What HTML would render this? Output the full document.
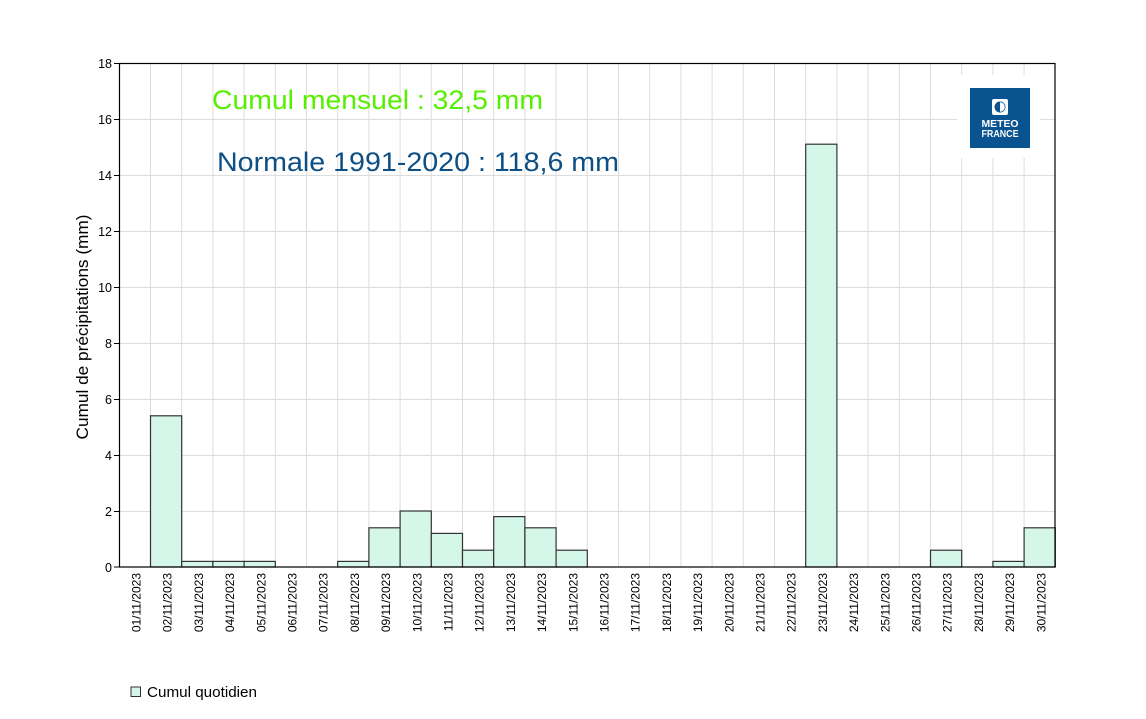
<!DOCTYPE html>
<html><head><meta charset="utf-8"><style>
html,body{margin:0;padding:0;background:#fff;}
svg{display:block;}
text{font-family:"Liberation Sans",Arial,sans-serif;}
</style></head><body>
<svg width="1146" height="719" viewBox="0 0 1146 719" xmlns="http://www.w3.org/2000/svg">
<rect x="0" y="0" width="1146" height="719" fill="#fff"/>
<g stroke="#dddddd" stroke-width="1">
<line x1="150.5" y1="63" x2="150.5" y2="567"/><line x1="181.7" y1="63" x2="181.7" y2="567"/><line x1="212.9" y1="63" x2="212.9" y2="567"/><line x1="244.1" y1="63" x2="244.1" y2="567"/><line x1="275.3" y1="63" x2="275.3" y2="567"/><line x1="306.5" y1="63" x2="306.5" y2="567"/><line x1="337.7" y1="63" x2="337.7" y2="567"/><line x1="368.9" y1="63" x2="368.9" y2="567"/><line x1="400.1" y1="63" x2="400.1" y2="567"/><line x1="431.3" y1="63" x2="431.3" y2="567"/><line x1="462.5" y1="63" x2="462.5" y2="567"/><line x1="493.7" y1="63" x2="493.7" y2="567"/><line x1="524.9" y1="63" x2="524.9" y2="567"/><line x1="556.1" y1="63" x2="556.1" y2="567"/><line x1="587.3" y1="63" x2="587.3" y2="567"/><line x1="618.5" y1="63" x2="618.5" y2="567"/><line x1="649.7" y1="63" x2="649.7" y2="567"/><line x1="680.9" y1="63" x2="680.9" y2="567"/><line x1="712.1" y1="63" x2="712.1" y2="567"/><line x1="743.3" y1="63" x2="743.3" y2="567"/><line x1="774.5" y1="63" x2="774.5" y2="567"/><line x1="805.7" y1="63" x2="805.7" y2="567"/><line x1="836.9" y1="63" x2="836.9" y2="567"/><line x1="868.1" y1="63" x2="868.1" y2="567"/><line x1="899.3" y1="63" x2="899.3" y2="567"/><line x1="930.5" y1="63" x2="930.5" y2="567"/><line x1="961.7" y1="63" x2="961.7" y2="567"/><line x1="992.9" y1="63" x2="992.9" y2="567"/><line x1="1024.1" y1="63" x2="1024.1" y2="567"/>
<line x1="119" y1="119.5" x2="1055" y2="119.5"/><line x1="119" y1="175.5" x2="1055" y2="175.5"/><line x1="119" y1="231.5" x2="1055" y2="231.5"/><line x1="119" y1="287.5" x2="1055" y2="287.5"/><line x1="119" y1="343.5" x2="1055" y2="343.5"/><line x1="119" y1="399.5" x2="1055" y2="399.5"/><line x1="119" y1="455.5" x2="1055" y2="455.5"/><line x1="119" y1="511.5" x2="1055" y2="511.5"/>
</g>
<rect x="957" y="75" width="83" height="83" fill="#fff"/>
<rect x="970" y="88" width="60" height="60" fill="#0a5391"/>
<rect x="992" y="99" width="16" height="16" rx="2" fill="#fff"/>
<circle cx="1000" cy="107" r="5.5" fill="#0a5391"/>
<path d="M1000 102.2 A4.8 4.8 0 0 1 1000 111.8 Z" fill="#fff"/>
<text x="1000" y="127" font-size="10" font-weight="bold" fill="#fff" text-anchor="middle" textLength="37" lengthAdjust="spacingAndGlyphs">METEO</text>
<text x="1000" y="137" font-size="10" font-weight="bold" fill="#fff" text-anchor="middle" textLength="37" lengthAdjust="spacingAndGlyphs">FRANCE</text>
<g fill="#d4f7ea" stroke="#333" stroke-width="1.2">
<rect x="150.5" y="415.8" width="31.2" height="151.2"/>
<rect x="181.7" y="561.4" width="31.2" height="5.6"/>
<rect x="212.9" y="561.4" width="31.2" height="5.6"/>
<rect x="244.1" y="561.4" width="31.2" height="5.6"/>
<rect x="337.7" y="561.4" width="31.2" height="5.6"/>
<rect x="368.9" y="527.8" width="31.2" height="39.2"/>
<rect x="400.1" y="511" width="31.2" height="56"/>
<rect x="431.3" y="533.4" width="31.2" height="33.6"/>
<rect x="462.5" y="550.2" width="31.2" height="16.8"/>
<rect x="493.7" y="516.6" width="31.2" height="50.4"/>
<rect x="524.9" y="527.8" width="31.2" height="39.2"/>
<rect x="556.1" y="550.2" width="31.2" height="16.8"/>
<rect x="805.7" y="144.2" width="31.2" height="422.8"/>
<rect x="930.5" y="550.2" width="31.2" height="16.8"/>
<rect x="992.9" y="561.4" width="31.2" height="5.6"/>
<rect x="1024.1" y="527.8" width="31.2" height="39.2"/>
</g>
<rect x="119.5" y="63.5" width="935.5" height="503.5" fill="none" stroke="#000" stroke-width="1.2"/>
<g stroke="#000" stroke-width="1">
<line x1="114" y1="63.5" x2="119" y2="63.5"/><line x1="114" y1="119.5" x2="119" y2="119.5"/><line x1="114" y1="175.5" x2="119" y2="175.5"/><line x1="114" y1="231.5" x2="119" y2="231.5"/><line x1="114" y1="287.5" x2="119" y2="287.5"/><line x1="114" y1="343.5" x2="119" y2="343.5"/><line x1="114" y1="399.5" x2="119" y2="399.5"/><line x1="114" y1="455.5" x2="119" y2="455.5"/><line x1="114" y1="511.5" x2="119" y2="511.5"/><line x1="114" y1="567" x2="119" y2="567"/>
</g>
<g font-size="12.5" fill="#000" text-anchor="end">
<text x="112" y="68">18</text><text x="112" y="124">16</text><text x="112" y="180">14</text><text x="112" y="236">12</text><text x="112" y="292">10</text><text x="112" y="348">8</text><text x="112" y="404">6</text><text x="112" y="460">4</text><text x="112" y="516">2</text><text x="112" y="572">0</text>
</g>
<text transform="translate(88,327) rotate(-90)" font-size="17" fill="#000" text-anchor="middle" textLength="225" lengthAdjust="spacingAndGlyphs">Cumul de précipitations (mm)</text>
<g font-size="12" fill="#000" text-anchor="end">
<text transform="translate(140.5,573) rotate(-90)">01/11/2023</text>
<text transform="translate(171.7,573) rotate(-90)">02/11/2023</text>
<text transform="translate(202.9,573) rotate(-90)">03/11/2023</text>
<text transform="translate(234.1,573) rotate(-90)">04/11/2023</text>
<text transform="translate(265.3,573) rotate(-90)">05/11/2023</text>
<text transform="translate(296.5,573) rotate(-90)">06/11/2023</text>
<text transform="translate(327.7,573) rotate(-90)">07/11/2023</text>
<text transform="translate(358.9,573) rotate(-90)">08/11/2023</text>
<text transform="translate(390.1,573) rotate(-90)">09/11/2023</text>
<text transform="translate(421.3,573) rotate(-90)">10/11/2023</text>
<text transform="translate(452.5,573) rotate(-90)">11/11/2023</text>
<text transform="translate(483.7,573) rotate(-90)">12/11/2023</text>
<text transform="translate(514.9,573) rotate(-90)">13/11/2023</text>
<text transform="translate(546.1,573) rotate(-90)">14/11/2023</text>
<text transform="translate(577.3,573) rotate(-90)">15/11/2023</text>
<text transform="translate(608.5,573) rotate(-90)">16/11/2023</text>
<text transform="translate(639.7,573) rotate(-90)">17/11/2023</text>
<text transform="translate(670.9,573) rotate(-90)">18/11/2023</text>
<text transform="translate(702.1,573) rotate(-90)">19/11/2023</text>
<text transform="translate(733.3,573) rotate(-90)">20/11/2023</text>
<text transform="translate(764.5,573) rotate(-90)">21/11/2023</text>
<text transform="translate(795.7,573) rotate(-90)">22/11/2023</text>
<text transform="translate(826.9,573) rotate(-90)">23/11/2023</text>
<text transform="translate(858.1,573) rotate(-90)">24/11/2023</text>
<text transform="translate(889.3,573) rotate(-90)">25/11/2023</text>
<text transform="translate(920.5,573) rotate(-90)">26/11/2023</text>
<text transform="translate(951.7,573) rotate(-90)">27/11/2023</text>
<text transform="translate(982.9,573) rotate(-90)">28/11/2023</text>
<text transform="translate(1014.1,573) rotate(-90)">29/11/2023</text>
<text transform="translate(1045.3,573) rotate(-90)">30/11/2023</text>
</g>
<text x="212" y="109" font-size="27" fill="#55f000" textLength="331" lengthAdjust="spacingAndGlyphs">Cumul mensuel : 32,5 mm</text>
<text x="217" y="171" font-size="27" fill="#0d4f85" textLength="402" lengthAdjust="spacingAndGlyphs">Normale 1991-2020 : 118,6 mm</text>
<rect x="131" y="687" width="9.5" height="9.5" fill="#d4f7ea" stroke="#333" stroke-width="1"/>
<text x="147" y="697" font-size="15" fill="#000" textLength="110" lengthAdjust="spacingAndGlyphs">Cumul quotidien</text>
</svg>
</body></html>
